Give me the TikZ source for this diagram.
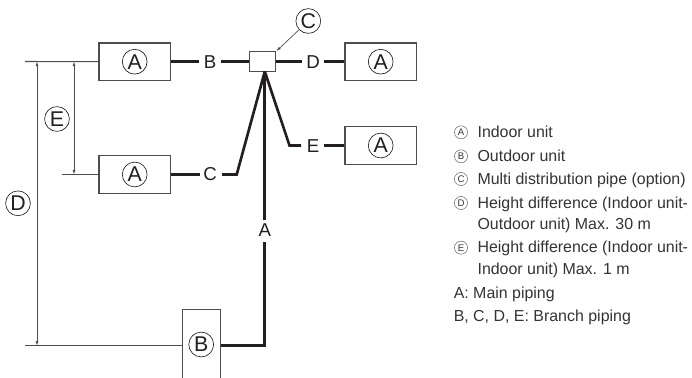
\documentclass[tikz,border=0pt]{standalone}
\usepackage{fontspec}
\setmainfont{Liberation Sans}
\usetikzlibrary{arrows.meta}
\definecolor{ink}{HTML}{231F20}
\definecolor{txt}{HTML}{333333}
\tikzset{
  x=0.75pt,y=-0.75pt,
  unitbox/.style={draw=ink!80,line width=0.8pt,fill=white,inner sep=0pt,minimum width=53.6pt,minimum height=28pt},
  vertbox/.style={draw=ink!80,line width=0.8pt,fill=white,inner sep=0pt,minimum width=28.2pt,minimum height=72pt},
  hubbox/.style={draw=ink!80,line width=0.8pt,fill=white,inner sep=0pt,minimum width=20pt,minimum height=15pt},
  circ/.style={circle,draw=ink,line width=0.5pt,inner sep=0pt,minimum size=18.6pt,text=ink,font=\fontsize{16}{16}\selectfont},
  pipelabel/.style={inner sep=0pt,text=ink,font=\fontsize{14}{14}\selectfont},
  pipe/.style={draw=ink,line width=2pt},
  level/.style={draw=ink!80,line width=0.8pt},
  dim/.style={draw=ink!80,line width=0.5pt,{Latex[length=3.5pt,width=2.2pt]}-{Latex[length=3.5pt,width=2.2pt]}},
  pointer/.style={draw=ink!80,line width=0.5pt,-{Latex[length=3.5pt,width=2.2pt]}},
  legcirc/.style={circle,draw=txt!80,line width=0.35pt,inner sep=0pt,minimum size=9.8pt,text=txt,font=\fontsize{7.2}{7.2}\selectfont},
  legtext/.style={anchor=base west,inner sep=0pt,text=txt,font=\fontsize{11.95}{11.95}\selectfont},
}
\begin{document}
\begin{tikzpicture}
\useasboundingbox (0,0) rectangle (692,378);
% coordinates
\coordinate (L1) at (25,61.5);
\coordinate (L2) at (62,174.5);
\coordinate (L3) at (25,345.7);
\coordinate (D1) at (37,61.5);
\coordinate (D2) at (37,345.7);
\coordinate (E1) at (74,61.5);
\coordinate (E2) at (74,174.5);
\coordinate (CB) at (236.7,174.5);
\coordinate (EB) at (289.5,145.5);
\coordinate (AC) at (264.8,345.7);
\coordinate (hub) at (264.8,71.5);
% units
\node[unitbox] (a1) at (134.7,61.7) {};
\node[unitbox] (a2) at (134.7,174.5) {};
\node[unitbox] (a3) at (380.7,61.7) {};
\node[unitbox] (a4) at (380.7,145.5) {};
\node[vertbox,anchor=north] (b) at (201.5,309) {};
\node[hubbox] (pipebox) at (262.5,61.7) {};
% pipe labels
\node[pipelabel] (lb) at (210,62) {B};
\node[pipelabel] (lc) at (210,174.5) {C};
\node[pipelabel] (ld) at (313,62) {D};
\node[pipelabel] (le) at (313,146) {E};
\node[pipelabel] (la) at (264.8,230) {A};
% level lines
\draw[level] (L1) -- (a1.west);
\draw[level] (L2) -- (a2.west);
\draw[level] (L3) -- (b.west |- L3);
\draw[dim] (D1) -- (D2);
\draw[dim] (E1) -- (E2);
% pipes
\draw[pipe] (a1.east) -- (198.7,61.7);
\draw[pipe] (221,61.7) -- (pipebox.west);
\draw[pipe] (a2.east) -- (199.7,174.5);
\draw[pipe] (222,174.5) -- (CB) -- (hub);
\draw[pipe] (pipebox.east) -- (301.7,61.7);
\draw[pipe] (324.3,61.7) -- (a3.west);
\draw[pipe] (hub) -- (EB) -- (301,145.5);
\draw[pipe] (324,145.5) -- (a4.west);
\draw[pipe] (hub) -- (264.8,219.5);
\draw[pipe] (264.8,242) -- (AC) -- (b.east |- AC);
% circled letters
\node[circ] (ca1) at (134.7,61.7) {A};
\node[circ] (ca2) at (134.7,174.5) {A};
\node[circ] (ca3) at (380.7,61.7) {A};
\node[circ] (ca4) at (380.7,145.5) {A};
\node[circ] (cb) at (201.2,344.5) {B};
\node[circ] (cc) at (308.3,21) {C};
\node[circ] (cd) at (18,203.3) {D};
\node[circ] (ce) at (57,119) {E};
% pointer
\draw[pointer] (cc) -- (pipebox.north east);
% legend
\node[legcirc] (k1) at (461,132.3) {A};
\node[legcirc] (k2) at (461,156.3) {B};
\node[legcirc] (k3) at (461,179) {C};
\node[legcirc] (k4) at (461,203) {D};
\node[legcirc] (k5) at (461,247.7) {E};
\node[legtext] (t1) at (477.3,137.7) {Indoor unit};
\node[legtext] (t2) at (477.3,161.3) {Outdoor unit};
\node[legtext] (t3) at (477.3,184.7) {Multi distribution pipe (option)};
\node[legtext] (t4) at (477.3,208.3) {Height difference (Indoor unit-};
\node[legtext] (t4b) at (477.3,229.3) {Outdoor unit) Max. 30 m};
\node[legtext] (t5) at (477.3,252.7) {Height difference (Indoor unit-};
\node[legtext] (t5b) at (477.3,274) {Indoor unit) Max. 1 m};
\node[legtext] (t6) at (453.5,298.3) {A: Main piping};
\node[legtext] (t7) at (453.5,321) {B, C, D, E: Branch piping};
\end{tikzpicture}
\end{document}
